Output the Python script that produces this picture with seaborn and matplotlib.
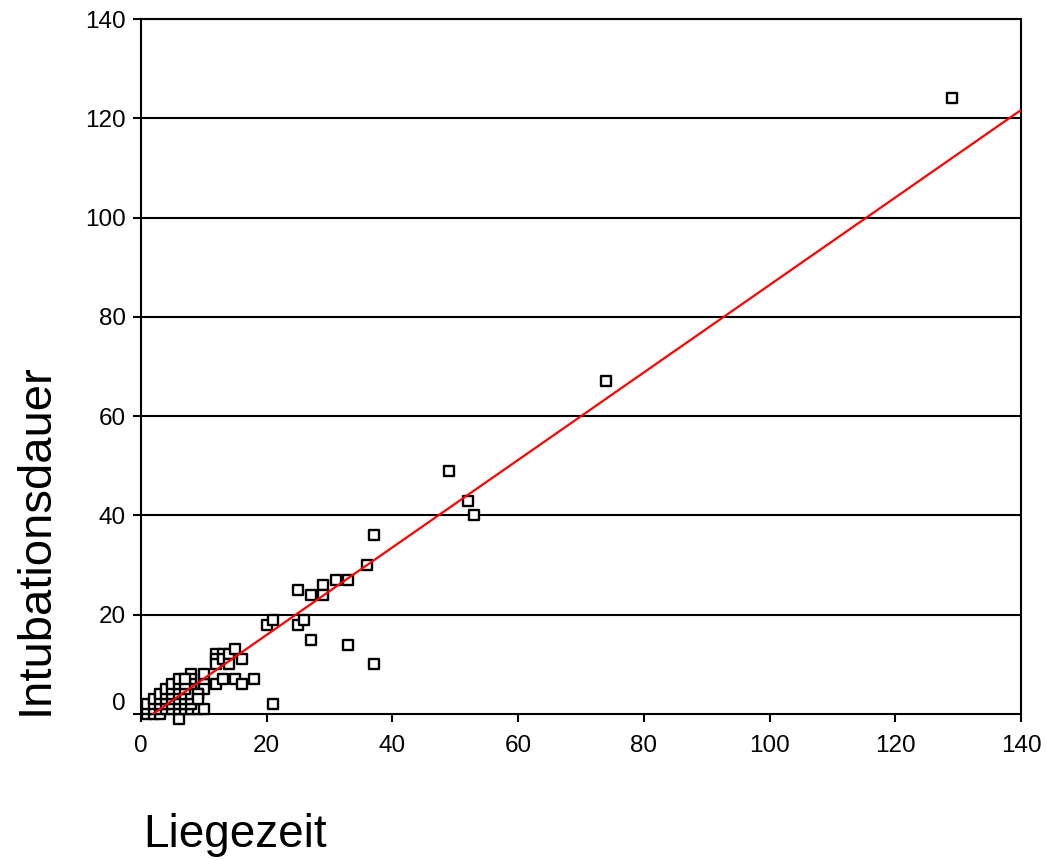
import numpy as np
import pandas as pd
import matplotlib
matplotlib.use("Agg")
import matplotlib.pyplot as plt
import matplotlib.transforms as mtransforms
import seaborn as sns

# Liegezeit (x) and Intubationsdauer (y)
liegezeit = [
    129, 74, 49, 52, 53, 37, 36, 31, 33, 29, 25, 27, 29,
    20, 21, 25, 26, 27, 33, 37, 21,
    12, 12, 12, 13, 13, 14, 14, 15, 16,
    10, 12, 13, 15, 16, 18, 10, 10, 8, 8, 8, 8,
    1, 2, 3, 6,
    1, 2, 3, 4, 5, 6, 7, 8, 9, 10,
    1, 2, 3, 4, 5, 6, 7, 8,
    2, 3, 4, 5, 6, 7, 8,
    3, 4, 5, 6, 7, 8,
    4, 5, 6, 7, 9,
    5, 6, 7, 9,
    6, 7, 9,
]
intubationsdauer = [
    124, 67, 49, 43, 40, 36, 30, 27, 27, 26, 25, 24, 24,
    18, 19, 18, 19, 15, 14, 10, 2,
    12, 11, 10, 12, 11, 12, 10, 13, 11,
    6, 6, 7, 7, 6, 7, 5, 8, 8, 7, 6, 5,
    0, 0, 0, -1,
    1, 1, 1, 1, 1, 1, 1, 1, 1, 1,
    2, 2, 2, 2, 2, 2, 2, 2,
    3, 3, 3, 3, 3, 3, 3,
    4, 4, 4, 4, 4, 4,
    5, 5, 5, 5, 4,
    6, 6, 6, 4,
    7, 7, 3,
]
# fitted line as drawn in the reference (intercept, slope)
fit_intercept = -1.68
fit_slope = 0.881
fit_x = [0, 140]

x_ticks = [0, 20, 40, 60, 80, 100, 120, 140]
y_ticks = [0, 20, 40, 60, 80, 100, 120, 140]

df = pd.DataFrame({"Liegezeit": liegezeit, "Intubationsdauer": intubationsdauer})
fit_df = pd.DataFrame({"x": fit_x,
                       "y": [fit_intercept + fit_slope * v for v in fit_x]})

sns.set_theme(style="white")
plt.rcParams["font.family"] = ["Liberation Sans", "DejaVu Sans"]
plt.rcParams["text.color"] = "black"

fig = plt.figure(figsize=(10.47, 8.59), dpi=100)
ax = fig.add_axes([141 / 1047, 1 - 714 / 859, 880 / 1047, 695 / 859])
ax.set_xlim(0, 140)
ax.set_ylim(0, 140)

for yv in y_ticks[1:]:
    ax.axhline(yv, color="black", lw=1.5, zorder=1)

sns.scatterplot(data=df, x="Liegezeit", y="Intubationsdauer", ax=ax,
                marker="s", s=62, facecolor="white", edgecolor="black",
                linewidth=1.7, zorder=3, legend=False, clip_on=False)
sns.lineplot(data=fit_df, x="x", y="y", ax=ax, color="red", lw=1.6,
             zorder=4, legend=False)

ax.set_xlim(0, 140)
ax.set_ylim(0, 140)
ax.set_xticks(x_ticks)
ax.set_yticks(y_ticks)
ax.tick_params(axis="both", which="both", direction="out", length=6, width=1.5,
               colors="black", labelcolor="black", labelsize=17.5,
               left=True, bottom=True)
ax.tick_params(axis="y", pad=5)
ax.tick_params(axis="x", pad=9)
for sp in ax.spines.values():
    sp.set_color("black")
    sp.set_linewidth(1.5)
    sp.set_visible(True)
    sp.set_zorder(2)
ax.set_xlabel("")
ax.set_ylabel("")

# shift the y "0" label up as in the reference
lab0 = ax.get_yticklabels()[0]
lab0.set_transform(lab0.get_transform() + mtransforms.ScaledTranslation(0, 12 / 100, fig.dpi_scale_trans))

fig.text(143 / 1047, 1 - 847 / 859, "Liegezeit", fontsize=33, color="black",
         ha="left", va="baseline")
fig.text(36 / 1047, 1 - 715 / 859, "Intubationsdauer", fontsize=34, color="black",
         rotation=90, ha="center", va="bottom")

fig.savefig("out.png", dpi=100)
